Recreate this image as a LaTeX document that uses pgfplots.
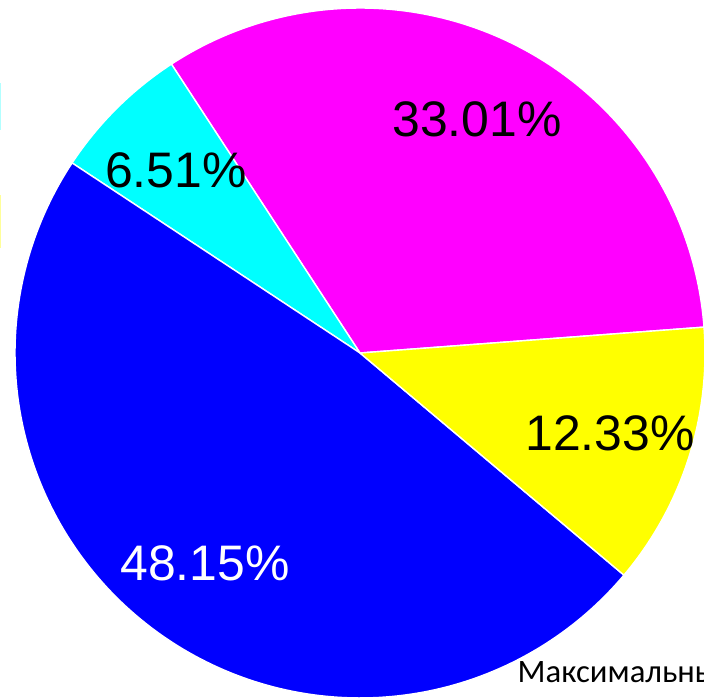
\documentclass[border=0pt]{standalone}
\usepackage{pgfplots}
\pgfplotsset{compat=1.18}
\usepackage{fontspec}
\setmainfont{Liberation Sans}
\newfontfamily\carlito{Carlito}
\definecolor{pmag}{HTML}{FF00FF}
\definecolor{pcya}{HTML}{00FFFF}
\definecolor{pblu}{HTML}{0000FF}
\definecolor{pyel}{HTML}{FFFF00}
\begin{document}
\begin{tikzpicture}
\def\cx{360}\def\cy{347}\def\R{345}
% slice shares (percent), counter-clockwise from the start angle
\def\va{33.01}\def\vb{6.51}\def\vc{48.15}\def\vd{12.33}
\pgfmathsetmacro\aA{4.3}
\pgfmathsetmacro\aB{\aA+\va*3.6}
\pgfmathsetmacro\aC{\aB+\vb*3.6}
\pgfmathsetmacro\aD{\aC+\vc*3.6}
\pgfmathsetmacro\aE{\aD+\vd*3.6}
\begin{axis}[width=7.04cm,height=7cm,scale only axis,hide axis,
  xmin=0,xmax=704,ymin=0,ymax=700,clip=true]
\addplot[fill=pmag,draw=white,line width=0.4pt,domain=\aA:\aB,samples=120,variable=\t]
  ({\cx+\R*cos(\t)},{\cy+\R*sin(\t)}) -- (axis cs:\cx,\cy) -- cycle;
\addplot[fill=pcya,draw=white,line width=0.4pt,domain=\aB:\aC,samples=40,variable=\t]
  ({\cx+\R*cos(\t)},{\cy+\R*sin(\t)}) -- (axis cs:\cx,\cy) -- cycle;
\addplot[fill=pblu,draw=white,line width=0.4pt,domain=\aC:\aD,samples=160,variable=\t]
  ({\cx+\R*cos(\t)},{\cy+\R*sin(\t)}) -- (axis cs:\cx,\cy) -- cycle;
\addplot[fill=pyel,draw=white,line width=0.4pt,domain=\aD:\aE,samples=60,variable=\t]
  ({\cx+\R*cos(\t)},{\cy+\R*sin(\t)}) -- (axis cs:\cx,\cy) -- cycle;
\tikzset{lab/.style={inner sep=0pt,font=\fontsize{14.2}{17}\selectfont}}
\node[lab,black] at (axis cs:477,581) {33.01\%};
\node[lab,black] at (axis cs:176,530) {6.51\%};
\node[lab,white] at (axis cs:205,137) {48.15\%};
\node[lab,black] at (axis cs:610,267) {12.33\%};
\node[inner sep=0pt,anchor=base west,font=\carlito\fontsize{9.3}{11}\selectfont] at (axis cs:517,17) {Максимальный};
% cut-off legend key fragments at the left edge
\fill[pcya!30] (axis cs:0,570) rectangle (axis cs:1.3,617);
\fill[pyel!40] (axis cs:0,452) rectangle (axis cs:1.3,505);
\end{axis}
\pgfresetboundingbox
\useasboundingbox (current axis.south west) rectangle (current axis.north east);
\end{tikzpicture}
\end{document}
